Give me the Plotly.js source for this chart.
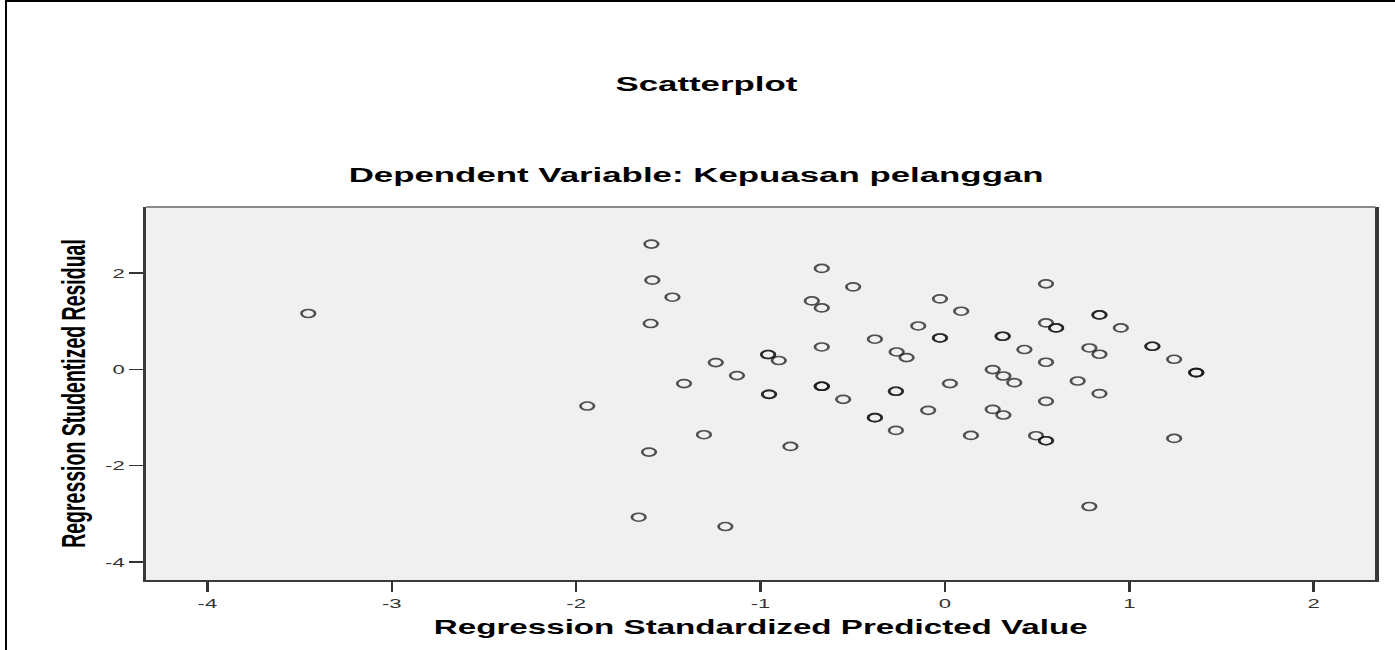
<!DOCTYPE html>
<html>
<head>
<meta charset="utf-8">
<script src="https://cdn.plot.ly/plotly-3.0.1.min.js"></script>
<style>
  html, body { margin: 0; padding: 0; background: #fff; overflow: hidden; }
  #wrap { position: relative; width: 1395px; height: 650px; overflow: hidden; }
  #frame { position: absolute; left: 5px; top: 0; width: 1400px; height: 660px;
           border-left: 2px solid #000; border-top: 2px solid #000; box-sizing: border-box; pointer-events: none; z-index: 2; }
  #chart { position: absolute; left: 0; top: 0; width: 821px; height: 650px;
           transform: scaleX(1.7); transform-origin: 0 0; }
</style>
</head>
<body>
<div id="wrap">
  <div id="chart"></div>
  <div id="frame"></div>
</div>
<script>
// Regression Standardized Predicted Value
const predicted = [
  -3.453, -1.940, -1.592, -1.587, -1.478, -1.596, -0.668, -0.498, -0.722, -0.668,
  -0.027, 0.088, 0.548, 0.838, 0.838, 0.548, 0.603, 0.603, 0.954, -0.145,
  -0.380, -0.027, -0.027, 0.313, 0.313, -0.668, 0.431, 0.783, 0.838, 0.548,
  -0.959, -0.959, -0.901, -1.243, -0.262, -0.208, -1.128, -1.415, 0.259, 0.317,
  0.376, 0.027, 0.720, 0.838, -0.954, -0.954, -0.668, -0.668, -0.668, -0.552,
  -0.266, -0.266, 0.548, 1.125, 1.125, 1.243, 1.363, 1.363, 1.363, -0.091,
  -0.380, -0.380, 0.259, 0.317, -0.266, 0.141, 0.494, 0.548, 0.548, -1.307,
  -1.605, -0.838, -1.661, -1.191, 0.783, 1.243
];
// Regression Studentized Residual
const residual = [
  1.158, -0.763, 2.599, 1.850, 1.497, 0.950, 2.094, 1.711, 1.420, 1.274,
  1.462, 1.206, 1.774, 1.129, 1.129, 0.963, 0.859, 0.859, 0.859, 0.900,
  0.624, 0.651, 0.651, 0.686, 0.686, 0.464, 0.410, 0.443, 0.312, 0.146,
  0.306, 0.306, 0.181, 0.139, 0.360, 0.243, -0.131, -0.297, -0.006, -0.139,
  -0.277, -0.297, -0.243, -0.505, -0.520, -0.520, -0.353, -0.353, -0.353, -0.624,
  -0.457, -0.457, -0.665, 0.478, 0.478, 0.208, -0.069, -0.069, -0.069, -0.852,
  -1.004, -1.004, -0.832, -0.950, -1.268, -1.372, -1.378, -1.482, -1.482, -1.358,
  -1.719, -1.601, -3.071, -3.264, -2.848, -1.435
];
const xTicks = [-4, -3, -2, -1, 0, 1, 2];
const yTicks = [-4, -2, 0, 2];
const titleMain = 'Scatterplot';
const titleSub = 'Dependent Variable: Kepuasan pelanggan';
const xTitle = 'Regression Standardized Predicted Value';
const yTitle = 'Regression Studentized Residual';

const FONT = 'Arial, "Liberation Sans", Helvetica, sans-serif';

const trace = {
  type: 'scatter',
  mode: 'markers',
  x: predicted,
  y: residual,
  marker: {
    symbol: 'circle-open',
    size: 8,
    color: 'rgba(25,25,25,0.75)',
    line: { width: 1.6, color: 'rgba(25,25,25,0.75)' }
  },
  hoverinfo: 'x+y',
  showlegend: false
};

const layout = {
  width: 821,
  height: 650,
  margin: { l: 86, r: 12, t: 207, b: 70, pad: 0 },
  paper_bgcolor: 'rgba(0,0,0,0)',
  plot_bgcolor: '#f0f0f0',
  font: { family: FONT, color: '#000' },
  showlegend: false,
  xaxis: {
    range: [-4.332, 2.334],
    tickmode: 'array',
    tickvals: xTicks,
    ticktext: xTicks.map(String),
    ticks: 'outside',
    ticklen: 10,
    tickwidth: 1.5,
    tickcolor: '#333',
    tickfont: { family: FONT, size: 13, color: '#333' },
    showgrid: false,
    zeroline: false,
    showline: true,
    linecolor: '#3a3a3a',
    linewidth: 2,
    mirror: false,
    automargin: false,
    title: { text: xTitle, font: { family: FONT, size: 19.5, weight: 'bold', color: '#000' }, standoff: 11 }
  },
  yaxis: {
    range: [-4.374, 3.369],
    tickmode: 'array',
    tickvals: yTicks,
    ticktext: yTicks.map(String),
    ticks: 'outside',
    ticklen: 8,
    tickwidth: 1.5,
    tickcolor: '#333',
    tickfont: { family: FONT, size: 13, color: '#333' },
    showgrid: false,
    zeroline: false,
    showline: true,
    linecolor: '#3a3a3a',
    linewidth: 2,
    mirror: true,
    automargin: false,
    title: { text: yTitle, font: { family: FONT, size: 19.5, weight: 'bold', color: '#000' }, standoff: 6 }
  },
  shapes: [
    { type: 'line', xref: 'paper', yref: 'paper', x0: 0, x1: 1, y0: 1, y1: 1,
      line: { color: '#8a8a8a', width: 2 } }
  ],
  annotations: [
    { text: titleMain, xref: 'paper', yref: 'paper', x: 0.4559, y: 1.3298,
      xanchor: 'center', yanchor: 'middle', showarrow: false,
      font: { family: FONT, size: 20.5, weight: 'bold', color: '#000' } },
    { text: titleSub, xref: 'paper', yref: 'paper', x: 0.4477, y: 1.0858,
      xanchor: 'center', yanchor: 'middle', showarrow: false,
      font: { family: FONT, size: 20.5, weight: 'bold', color: '#000' } }
  ]
};

Plotly.newPlot('chart', [trace], layout, { displayModeBar: false, staticPlot: true });
</script>
</body>
</html>
